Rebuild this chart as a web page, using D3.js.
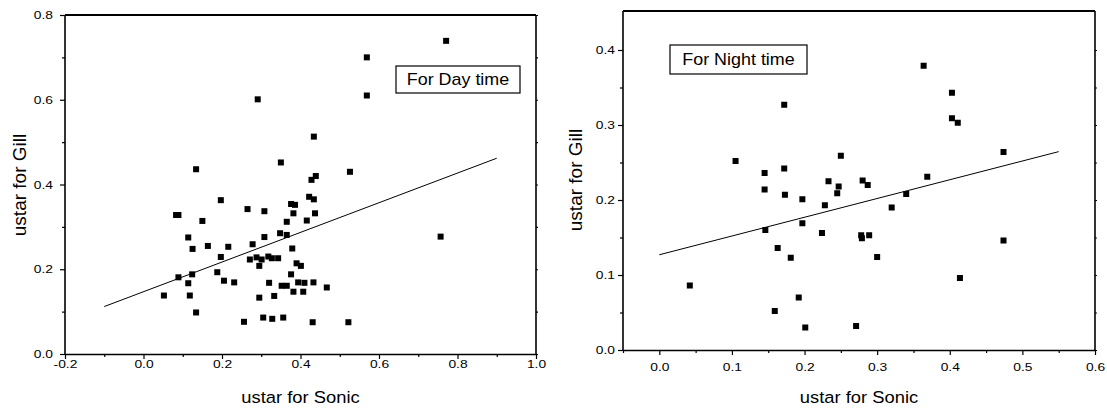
<!DOCTYPE html>
<html><head><meta charset="utf-8">
<script src="https://cdn.jsdelivr.net/npm/d3@7"></script>
<style>
body{margin:0;background:#fff;}
svg{display:block;font-family:Arial,"Liberation Sans",sans-serif;}
</style></head><body>
<svg id="chart" width="1107" height="410"></svg>
<script>
// Daytime friction velocity: sonic anemometer vs Gill
const daySonic = [0.771,0.569,0.569,0.291,0.434,0.350,0.134,0.526,0.439,0.428,0.422,0.434,0.197,0.376,0.386,0.265,0.308,0.382,0.437,0.083,0.089,0.150,0.365,0.416,0.348,0.365,0.308,0.114,0.757,0.216,0.278,0.164,0.125,0.379,0.197,0.271,0.288,0.301,0.318,0.327,0.343,0.295,0.390,0.401,0.188,0.124,0.089,0.376,0.205,0.231,0.114,0.320,0.352,0.365,0.394,0.410,0.433,0.382,0.407,0.467,0.052,0.118,0.295,0.333,0.134,0.256,0.305,0.328,0.356,0.431,0.522];
const dayGill  = [0.739,0.700,0.610,0.601,0.513,0.452,0.436,0.430,0.420,0.411,0.371,0.365,0.363,0.354,0.352,0.342,0.337,0.332,0.332,0.328,0.328,0.314,0.312,0.315,0.285,0.281,0.276,0.275,0.277,0.253,0.259,0.255,0.248,0.249,0.229,0.223,0.228,0.223,0.230,0.226,0.226,0.208,0.214,0.208,0.193,0.188,0.181,0.188,0.173,0.169,0.167,0.168,0.161,0.161,0.169,0.168,0.169,0.147,0.147,0.157,0.138,0.138,0.133,0.137,0.098,0.076,0.086,0.083,0.086,0.075,0.075];

// Night-time friction velocity
const nightSonic = [0.172,0.105,0.145,0.172,0.250,0.145,0.173,0.197,0.233,0.247,0.245,0.228,0.280,0.287,0.146,0.197,0.224,0.278,0.289,0.279,0.163,0.181,0.042,0.192,0.159,0.201,0.271,0.364,0.403,0.403,0.411,0.474,0.369,0.340,0.320,0.300,0.474,0.414];
const nightGill  = [0.327,0.252,0.236,0.242,0.259,0.214,0.207,0.201,0.225,0.218,0.209,0.193,0.226,0.220,0.160,0.169,0.156,0.153,0.153,0.149,0.136,0.123,0.086,0.070,0.052,0.030,0.032,0.379,0.343,0.309,0.303,0.264,0.231,0.208,0.190,0.124,0.146,0.096];

// Linear fits: [intercept, slope], drawn over [from, to]
const dayFitCoef = [0.147, 0.35];
const dayFitSpan = [-0.1, 0.9];
const nightFitCoef = [0.127, 0.25];
const nightFitSpan = [0.0, 0.55];

// Axis tick values
const dayXTicks = [-0.2, 0.0, 0.2, 0.4, 0.6, 0.8, 1.0];
const dayXMinor = [-0.1, 0.1, 0.3, 0.5, 0.7, 0.9];
const dayYTicks = [0.0, 0.2, 0.4, 0.6, 0.8];
const dayYMinor = [0.1, 0.3, 0.5, 0.7];
const nightXTicks = [0.0, 0.1, 0.2, 0.3, 0.4, 0.5, 0.6];
const nightXMinor = [-0.05, 0.05, 0.15, 0.25, 0.35, 0.45, 0.55];
const nightYTicks = [0.0, 0.1, 0.2, 0.3, 0.4];
const nightYMinor = [0.05, 0.15, 0.25, 0.35];

const xTitle = "ustar for Sonic";
const yTitle = "ustar for Gill";
const dayLabel = "For Day time";
const nightLabel = "For Night time";

const svg = d3.select("#chart");
const fmt = d => d.toFixed(1);
const WIDEN = 1.2; // horizontal stretch applied to lettering

function panel(opt) {
  const x = d3.scaleLinear().domain(opt.xDomain).range([opt.left, opt.right]);
  const y = d3.scaleLinear().domain(opt.yDomain).range([opt.bottom, opt.top]);
  const g = svg.append("g");

  // frame
  g.append("line").attr("x1", opt.left).attr("x2", opt.right).attr("y1", opt.top).attr("y2", opt.top)
    .attr("stroke", "#000").attr("stroke-width", 2.2);
  g.append("line").attr("x1", opt.right).attr("x2", opt.right).attr("y1", opt.top).attr("y2", opt.bottom)
    .attr("stroke", "#000").attr("stroke-width", 1.6);

  const styleAxis = sel => {
    sel.select(".domain").attr("stroke", "#000").attr("stroke-width", 1.6);
    sel.selectAll(".tick line").attr("stroke", "#000").attr("stroke-width", 1.2);
    sel.selectAll(".tick text").attr("fill", "#000").attr("font-size", 11.5)
      .attr("font-family", "Arial, 'Liberation Sans', sans-serif");
  };

  // bottom axis
  g.append("g").attr("transform", `translate(0,${opt.bottom})`)
    .call(d3.axisBottom(x).tickValues(opt.xMinor).tickSize(3).tickFormat(""))
    .call(s => s.select(".domain").remove())
    .call(styleAxis);
  g.append("g").attr("transform", `translate(0,${opt.bottom})`)
    .call(d3.axisBottom(x).tickValues(opt.xTicks).tickSize(5).tickSizeOuter(0).tickPadding(opt.xPad).tickFormat(fmt))
    .call(styleAxis)
    .call(s => s.selectAll(".tick text").attr("transform", `scale(${WIDEN},1)`));

  // left axis
  g.append("g").attr("transform", `translate(${opt.left},0)`)
    .call(d3.axisLeft(y).tickValues(opt.yMinor).tickSize(3).tickFormat(""))
    .call(s => s.select(".domain").remove())
    .call(styleAxis);
  g.append("g").attr("transform", `translate(${opt.left},0)`)
    .call(d3.axisLeft(y).tickValues(opt.yTicks).tickSize(5).tickSizeOuter(0).tickFormat(fmt))
    .call(styleAxis)
    .call(s => s.select(".domain").attr("d", `M0,${opt.bottom}V${opt.top}`))
    .call(s => s.selectAll(".tick text").attr("x", -opt.yGap / WIDEN).attr("transform", `scale(${WIDEN},1)`));

  // mirrored ticks on the right edge
  g.append("g").attr("transform", `translate(${opt.right},0)`)
    .call(d3.axisRight(y).tickValues(opt.yTicks.concat(opt.yMinor)).tickSize(2).tickFormat(""))
    .call(s => s.select(".domain").remove())
    .call(styleAxis);

  // fit line
  const [a, b] = opt.fitCoef;
  const fit = opt.fitSpan.map(v => [v, a + b * v]);
  g.append("path").datum(fit)
    .attr("d", d3.line().x(d => x(d[0])).y(d => y(d[1])))
    .attr("fill", "none").attr("stroke", "#000").attr("stroke-width", 1);

  // points
  g.append("g").selectAll("rect").data(opt.xs.map((v, i) => [v, opt.ys[i]]))
    .join("rect")
    .attr("x", d => x(d[0]) - 3).attr("y", d => y(d[1]) - 3)
    .attr("width", 6).attr("height", 6).attr("fill", "#000");

  // label box
  const lb = g.append("g").attr("transform", `translate(${opt.box[0]},${opt.box[1]})`);
  lb.append("rect").attr("width", opt.box[2]).attr("height", opt.box[3])
    .attr("fill", "#fff").attr("stroke", "#000").attr("stroke-width", 1.2);
  lb.append("text")
    .attr("transform", `translate(${opt.box[2] / 2},${opt.box[3] / 2 + 5.5}) scale(1.12,1)`)
    .attr("text-anchor", "middle").attr("font-size", 16).text(opt.label);

  // axis titles
  g.append("text")
    .attr("transform", `translate(${(opt.left + opt.right) / 2 + opt.xTitleShift},403) scale(1.08,1)`)
    .attr("text-anchor", "middle").attr("font-size", 17).text(xTitle);
  g.append("text")
    .attr("transform", `translate(${opt.yTitleX},${opt.yTitleY}) rotate(-90)`)
    .attr("text-anchor", "middle").attr("font-size", 19).text(yTitle);
}

panel({
  left: 65, right: 536, top: 15, bottom: 354,
  xDomain: [-0.2, 1.0], yDomain: [0, 0.8],
  xTicks: dayXTicks, xMinor: dayXMinor, yTicks: dayYTicks, yMinor: dayYMinor,
  xPad: 1, yGap: 12,
  xs: daySonic, ys: dayGill, fitCoef: dayFitCoef, fitSpan: dayFitSpan,
  box: [396, 66, 124, 27], label: dayLabel,
  xTitleShift: 0, yTitleX: 26, yTitleY: 185
});

panel({
  left: 623, right: 1095, top: 11, bottom: 350,
  xDomain: [-0.05, 0.6], yDomain: [0, 0.452],
  xTicks: nightXTicks, xMinor: nightXMinor, yTicks: nightYTicks, yMinor: nightYMinor,
  xPad: 8, yGap: 8,
  xs: nightSonic, ys: nightGill, fitCoef: nightFitCoef, fitSpan: nightFitSpan,
  box: [670, 45, 137, 29], label: nightLabel,
  xTitleShift: 0, yTitleX: 582, yTitleY: 180
});
</script>
</body></html>
